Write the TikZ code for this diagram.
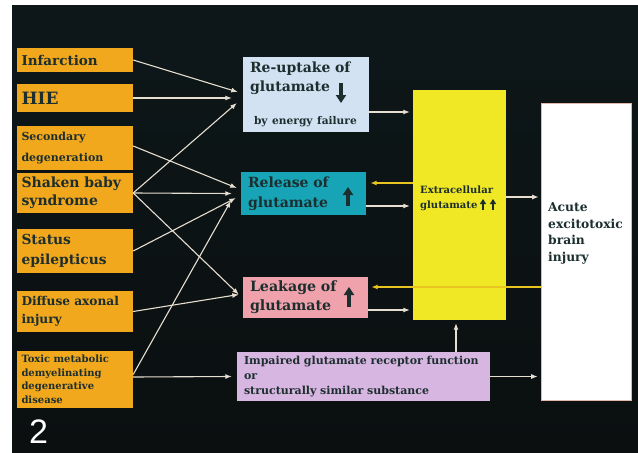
\documentclass[tikz,border=0pt]{standalone}
\usepackage{fontspec}
\setmainfont{DejaVu Serif}
\newfontfamily\numfont{Liberation Sans}
\usetikzlibrary{arrows.meta}

\definecolor{bgtop}{HTML}{0D1719}
\definecolor{bgbottom}{HTML}{0B0F10}
\definecolor{causeorange}{HTML}{F2A81C}
\definecolor{reupblue}{HTML}{D2E2F2}
\definecolor{releaseteal}{HTML}{16A4B6}
\definecolor{leakpink}{HTML}{F0A2AC}
\definecolor{impairlilac}{HTML}{D8B6E2}
\definecolor{glutyellow}{HTML}{F0E824}
\definecolor{injuryedge}{HTML}{E0B8A8}
\definecolor{inktext}{HTML}{1C2E2E}
\definecolor{wirecol}{HTML}{E6DED0}
\definecolor{feedyellow}{HTML}{E8C420}

\newcommand{\fsz}[2]{\fontsize{#1}{#2}\selectfont}

\begin{document}
\begin{tikzpicture}[x=1pt,y=-1pt,
    cause/.style={fill=causeorange, text=inktext, text width=107pt,
      inner xsep=4.5pt, inner ysep=0pt, align=left},
    stage/.style={text=inktext, inner ysep=0pt, align=left},
    wire/.style={draw=wirecol, line width=1.1pt, -{Latex[length=6.5pt,width=5pt]}},
    feedback/.style={draw=feedyellow, line width=1.3pt, -{Latex[length=6.5pt,width=5pt]}},
    fat/.style={draw=inktext, line width=3.2pt, -{Triangle[length=8pt,width=10pt]}},
    smallfat/.style={draw=inktext, line width=1.8pt, -{Triangle[length=5pt,width=6pt]}}]
  \useasboundingbox (0,0) rectangle (638,453);
  \shade[top color=bgtop, bottom color=bgbottom] (12,5) rectangle (638,453);

  % causes
  \node[cause, minimum height=24pt, font=\bfseries\fsz{13.5}{15}] (infarct) at (75,60) {Infarction};
  \node[cause, minimum height=28pt, font=\bfseries\fsz{17}{18}] (hie) at (75,98) {HIE};
  \node[cause, minimum height=44pt, font=\bfseries\fsz{11}{21}] (secondary) at (75,148) {Secondary\\degeneration};
  \node[cause, minimum height=40pt, font=\bfseries\fsz{14}{18}] (shaken) at (75,193) {Shaken baby\\syndrome};
  \node[cause, minimum height=44pt, font=\bfseries\fsz{13.8}{20}] (status) at (75,251) {Status\\epilepticus};
  \node[cause, minimum height=41pt, font=\bfseries\fsz{12.2}{18}] (diffuse) at (75,311.5) {\mbox{Diffuse axonal}\\injury};
  \node[cause, minimum height=57pt, font=\bfseries\fsz{10}{13.5}] (toxic) at (75,379.5) {Toxic metabolic\\demyelinating\\degenerative\\disease};
  \node[text=white, font=\numfont\fsz{34}{40}, anchor=base west, inner sep=0pt] (fignum) at (29,443) {2};

  % mechanisms
  \node[stage, fill=reupblue, minimum width=126pt, minimum height=75pt, text width=112pt,
    inner xsep=7pt, font=\bfseries\fsz{14}{19}] (reup) at (306,94.5)
    {Re-uptake of\\glutamate\\[14pt]\hspace*{4pt}{\fsz{10.6}{19}by energy failure}};
  \node[stage, fill=releaseteal, minimum width=125pt, minimum height=43pt, text width=111pt,
    inner xsep=7pt, font=\bfseries\fsz{14}{20}] (release) at (303.5,193.5) {Release of\\glutamate};
  \node[stage, fill=leakpink, minimum width=125pt, minimum height=41pt, text width=111pt,
    inner xsep=7pt, font=\bfseries\fsz{14.2}{19}] (leak) at (305.5,297.5) {Leakage of\\glutamate};
  \node[stage, fill=impairlilac, minimum width=253pt, minimum height=49pt, text width=239pt,
    inner xsep=7pt, font=\bfseries\fsz{11}{15}] (impair) at (363.5,376.5)
    {Impaired glutamate receptor function\\or\\structurally similar substance};

  % glutamate pool and outcome
  \node[fill=glutyellow, minimum width=93pt, minimum height=230pt] (glut) at (459.5,205) {};
  \node[stage, anchor=north west, inner sep=0pt, font=\bfseries\fsz{10}{15}] (gluttxt) at (420,185.5)
    {Extracellular\\glutamate};
  \node[fill=white, draw=injuryedge, line width=0.6pt, minimum width=90pt, minimum height=297pt] (injury) at (586,251.5) {};
  \node[stage, anchor=north west, inner sep=0pt, font=\bfseries\fsz{12.3}{16.6}] (injurytxt) at (548,202.5)
    {Acute\\excitotoxic\\brain\\injury};

  % arrows in the boxes
  \draw[fat] ([shift={(35,-11.5)}]reup.center) -- ([shift={(35,8.5)}]reup.center);
  \draw[fat] ([shift={(44.5,12.5)}]release.center) -- ([shift={(44.5,-6.5)}]release.center);
  \draw[fat] ([shift={(43.5,9.5)}]leak.center) -- ([shift={(43.5,-10.5)}]leak.center);
  \draw[smallfat] ([shift={(23.5,5)}]glut.center) -- ([shift={(23.5,-6)}]glut.center);
  \draw[smallfat] ([shift={(33.5,5)}]glut.center) -- ([shift={(33.5,-6)}]glut.center);

  % causes -> re-uptake
  \draw[wire] (infarct.east) -- ([shift={(-5,-2.5)}]reup.west);
  \draw[wire] (hie.east) -- ([shift={(-11,3.5)}]reup.west);
  \draw[wire] (shaken.east) -- ([shift={(-6,8.5)}]reup.west);
  % causes -> release
  \draw[wire] ([shift={(0,-2)}]secondary.east) -- ([shift={(-4,-5.5)}]release.west);
  \draw[wire] (shaken.east) -- ([shift={(-9,0)}]release.west);
  \draw[wire] (status.east) -- ([shift={(-5,4.5)}]release.west);
  \draw[wire] ([shift={(0,-5)}]toxic.east) -- ([shift={(-10,7.5)}]release.west);
  % causes -> leakage
  \draw[wire] (shaken.east) -- ([shift={(-4,-3)}]leak.west);
  \draw[wire] (diffuse.east) -- ([shift={(-4,-3)}]leak.west);
  % toxic -> impaired
  \draw[wire] ([shift={(0,-2.5)}]toxic.east) -- ([shift={(-5,0)}]impair.west);

  % mechanisms <-> glutamate
  \coordinate (reupOut) at ([shift={(0,17.5)}]reup.east);
  \draw[wire, shorten >=3pt] (reupOut) -- (reupOut -| glut.west);
  \coordinate (relBack) at ([shift={(4,-10.5)}]release.east);
  \draw[feedback] (relBack -| glut.west) -- (relBack);
  \coordinate (relOut) at ([shift={(0,12.5)}]release.east);
  \draw[wire, shorten >=3pt] (relOut) -- (relOut -| glut.west);
  \coordinate (leakBack) at ([shift={(3,-10.5)}]leak.east);
  \draw[feedback] (leakBack -| injury.west) -- (leakBack);
  \coordinate (leakOut) at ([shift={(0,12.5)}]leak.east);
  \draw[wire, shorten >=3pt] (leakOut) -- (leakOut -| glut.west);
  \coordinate (impairUp) at ([shift={(-3.5,0)}]glut.south);
  \draw[wire, shorten >=3pt] (impairUp |- impair.north) -- (impairUp);

  % -> outcome
  \coordinate (glutOut) at ([shift={(0,-8)}]glut.east);
  \draw[wire, shorten >=2pt] (glutOut) -- (glutOut -| injury.west);
  \draw[wire, shorten >=3pt] (impair.east) -- (impair.east -| injury.west);
\end{tikzpicture}
\end{document}
